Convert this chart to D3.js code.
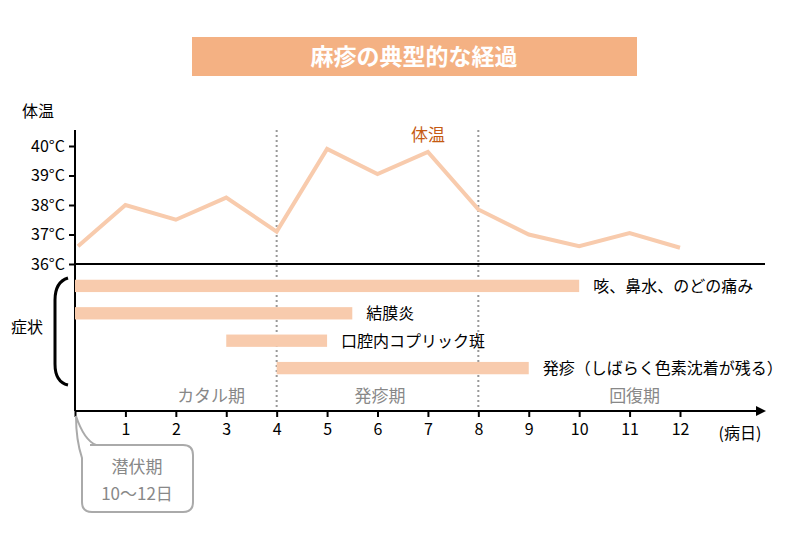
<!DOCTYPE html>
<html><head><meta charset="utf-8">
<script src="https://cdn.jsdelivr.net/npm/d3@7"></script>
<style>body{margin:0;background:#fff}text{font-family:"Noto Sans CJK JP","Noto Sans",sans-serif}</style>
</head><body><svg id="c" width="800" height="535"></svg>
<script>
const title = "麻疹の典型的な経過";
const days = [1,2,3,4,5,6,7,8,9,10,11,12];
const tempTicks = [36,37,38,39,40];
const tempDays = [0.06,1,2,3,4,5,6,7,8,9,10,11,12];
const tempValues = [36.6,38.0,37.5,38.25,37.1,39.9,39.05,39.8,37.85,37.0,36.6,37.05,36.55];
const symptoms = ["咳、鼻水、のどの痛み","結膜炎","口腔内コプリック斑","発疹（しばらく色素沈着が残る）"];
const symStart = [0,0,3,4];
const symEnd = [10,5.5,5,9];
const phases = ["カタル期","発疹期","回復期"];
const phaseCenter = [2.7,6.05,11.1];
const phaseBounds = [4,8];

const svg = d3.select("#c");
const x = d3.scaleLinear().domain([0,12]).range([75,680]);
const y = d3.scaleLinear().domain([36,40]).range([264,146]);
const symY = d3.scaleBand().domain(symptoms).range([277,377]).paddingInner(0.55).paddingOuter(0.1);
const peach = "#f8cbad", dark="#000";

svg.append("rect").attr("x",192).attr("y",37).attr("width",445).attr("height",39).attr("fill","#f4b183");
svg.append("text").attr("x",414).attr("y",65).attr("text-anchor","middle").attr("fill","#fff")
  .attr("font-size",23).attr("font-weight","bold").text(title);

svg.selectAll(".pb").data(phaseBounds).join("line").attr("x1",d=>x(d)).attr("x2",d=>x(d))
  .attr("y1",130).attr("y2",411).attr("stroke","#999").attr("stroke-width",2).attr("stroke-dasharray","2,3");

svg.append("line").attr("x1",75).attr("x2",75).attr("y1",130).attr("y2",411).attr("stroke",dark).attr("stroke-width",2);
svg.append("line").attr("x1",75).attr("x2",765).attr("y1",y(36)).attr("y2",y(36)).attr("stroke",dark).attr("stroke-width",2);
svg.append("line").attr("x1",75).attr("x2",758).attr("y1",411).attr("y2",411).attr("stroke",dark).attr("stroke-width",2);
svg.append("path").attr("d","M766,411 L756,406 L756,416 Z").attr("fill",dark);

const yAx = svg.append("g").attr("transform","translate(75,0)")
  .call(d3.axisLeft(y).tickValues(tempTicks).tickSize(6).tickFormat(d=>d+"°C"));
yAx.select(".domain").remove();
yAx.selectAll("line").attr("stroke-width",2);
yAx.selectAll("text").attr("font-size",16).attr("font-family","Noto Sans CJK JP").attr("x",-10).attr("fill","#000");

const xAx = svg.append("g").attr("transform","translate(0,411)")
  .call(d3.axisBottom(x).tickValues([0].concat(days)).tickSize(6).tickFormat(d=>d===0?"":d));
xAx.select(".domain").remove();
xAx.selectAll("line").attr("stroke-width",2);
xAx.selectAll("text").attr("font-size",16).attr("font-family","Noto Sans CJK JP").attr("y",13).attr("fill","#000");
svg.append("text").attr("x",740).attr("y",439).attr("text-anchor","middle").attr("font-size",16).text("(病日)");

svg.append("text").attr("x",38).attr("y",117).attr("text-anchor","middle").attr("font-size",16).text("体温");
svg.append("text").attr("x",428).attr("y",141).attr("text-anchor","middle").attr("font-size",17).attr("fill","#c55a11").text("体温");

svg.append("path").datum(tempDays.map((d,i)=>[d,tempValues[i]]))
  .attr("d",d3.line().x(d=>x(d[0])).y(d=>y(d[1]))).attr("fill","none").attr("stroke",peach).attr("stroke-width",4);

svg.selectAll(".bar").data(symptoms).join("rect").attr("x",(d,i)=>x(symStart[i])).attr("y",d=>symY(d))
  .attr("width",(d,i)=>x(symEnd[i])-x(symStart[i])).attr("height",symY.bandwidth()).attr("fill",peach);
svg.selectAll(".bl").data(symptoms).join("text").attr("x",(d,i)=>x(symEnd[i])+14).attr("y",d=>symY(d)+symY.bandwidth()/2+6)
  .attr("font-size",16).text(d=>d);

svg.append("path").attr("d","M68,278 Q55,282 55,300 L55,364 Q55,382 68,385").attr("fill","none").attr("stroke",dark).attr("stroke-width",3);
svg.append("text").attr("x",27).attr("y",333).attr("text-anchor","middle").attr("font-size",16).text("症状");

svg.selectAll(".ph").data(phases).join("text").attr("x",(d,i)=>x(phaseCenter[i])).attr("y",402)
  .attr("text-anchor","middle").attr("font-size",17).attr("fill","#888").text(d=>d);

svg.append("path").attr("d","M90,445 L183,445 Q193,445 193,455 L193,502 Q193,512 183,512 L92,512 Q82,512 82,502 L82,458 Q76,440 76,416 Q84,440 96,445")
  .attr("fill","#fff").attr("stroke","#aaa").attr("stroke-width",2);
svg.append("text").attr("x",137).attr("y",473).attr("text-anchor","middle").attr("font-size",17).attr("fill","#888").text("潜伏期");
svg.append("text").attr("x",137).attr("y",500).attr("text-anchor","middle").attr("font-size",17).attr("fill","#888").text("10〜12日");
</script></body></html>
